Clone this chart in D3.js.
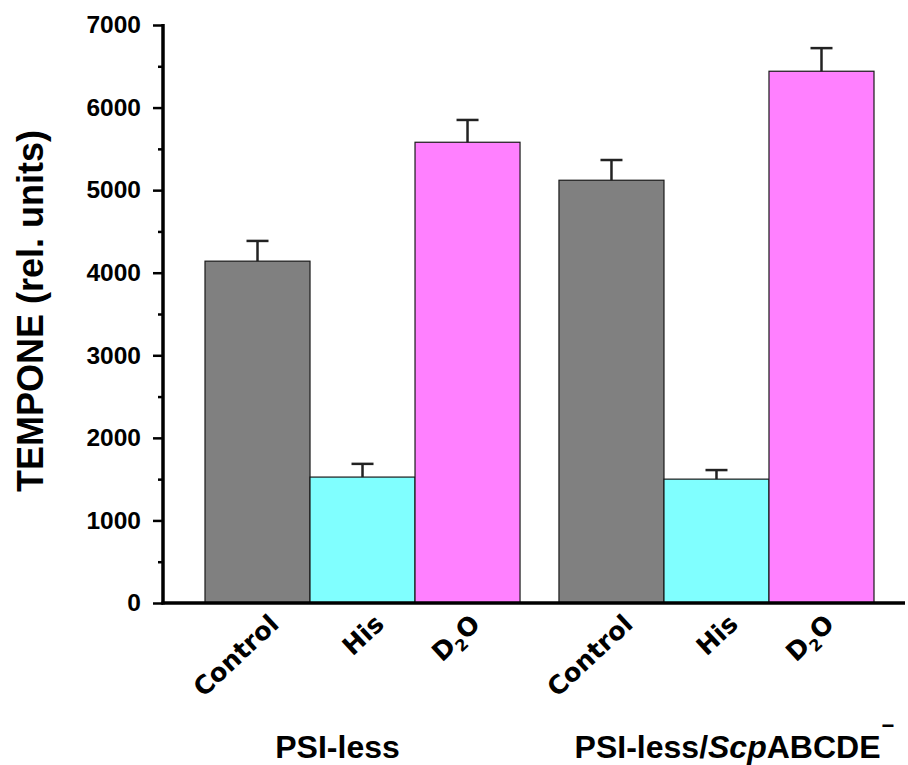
<!DOCTYPE html>
<html>
<head>
<meta charset="utf-8">
<script src="https://cdn.jsdelivr.net/npm/d3@7/dist/d3.min.js"></script>
<style>
  html, body { margin: 0; padding: 0; background: #fff; }
  svg { display: block; }
</style>
</head>
<body>
<svg id="chart" width="908" height="765"></svg>
<script>
// Strains (groups) and treatments
const groups = ["PSI-less", "PSI-less/ScpABCDE"];
const conditions = ["Control", "His", "D2O"];
// Mean TEMPONE signal per group, in condition order
const valuesPSIless = [4140, 1525, 5580];
const valuesScp = [5120, 1500, 6440];
// Upper error (SD) per group, in condition order
const errorsPSIless = [245, 160, 270];
const errorsScp = [245, 110, 280];
const yTicks = [0, 1000, 2000, 3000, 4000, 5000, 6000, 7000];
const yMinorTicks = [500, 1500, 2500, 3500, 4500, 5500, 6500];
const fills = { "Control": "#808080", "His": "#80FFFF", "D2O": "#FF80FF" };

const rows = [];
[valuesPSIless, valuesScp].forEach((vals, gi) => {
  const errs = gi === 0 ? errorsPSIless : errorsScp;
  conditions.forEach((c, ci) => rows.push({ group: groups[gi], cond: c, value: vals[ci], err: errs[ci] }));
});

const svg = d3.select("#chart");
const axisX = 163, baseY = 603;

const y = d3.scaleLinear().domain([0, 7000]).range([baseY, 25]);
const x0 = d3.scaleBand().domain(groups).range([205, 874]).paddingInner(0.11).paddingOuter(0);
const x1 = d3.scaleBand().domain(conditions).range([0, x0.bandwidth()]).padding(0);

// Bars
const g = svg.append("g");
g.selectAll("rect.bar").data(rows).join("rect")
  .attr("class", "bar")
  .attr("x", d => x0(d.group) + x1(d.cond))
  .attr("y", d => y(d.value))
  .attr("width", x1.bandwidth())
  .attr("height", d => y(0) - y(d.value))
  .attr("fill", d => fills[d.cond])
  .attr("stroke", "#1a1a1a")
  .attr("stroke-width", 1.2);

// Upper error bars
const cx = d => x0(d.group) + x1(d.cond) + x1.bandwidth() / 2;
g.selectAll("line.err").data(rows).join("line")
  .attr("class", "err")
  .attr("x1", cx).attr("x2", cx)
  .attr("y1", d => y(d.value)).attr("y2", d => y(d.value + d.err))
  .attr("stroke", "#222").attr("stroke-width", 2.5);
g.selectAll("line.cap").data(rows).join("line")
  .attr("class", "cap")
  .attr("x1", d => cx(d) - 11).attr("x2", d => cx(d) + 11)
  .attr("y1", d => y(d.value + d.err)).attr("y2", d => y(d.value + d.err))
  .attr("stroke", "#222").attr("stroke-width", 2.5);

// Y axis with major and minor ticks
const yAxis = d3.axisLeft(y).tickValues(yTicks).tickSize(10).tickPadding(12).tickFormat(d3.format("d"));
const ya = svg.append("g").attr("transform", `translate(${axisX},0)`).call(yAxis);
ya.select(".domain").remove();
ya.selectAll(".tick line").attr("stroke", "#000").attr("stroke-width", 2.5);
ya.selectAll(".tick text")
  .attr("font-family", "'Liberation Sans', Arial, sans-serif")
  .attr("font-weight", "bold").attr("font-size", 24.5).attr("fill", "#000");
const yMinor = d3.axisLeft(y).tickValues(yMinorTicks).tickSize(5).tickFormat("");
const ym = svg.append("g").attr("transform", `translate(${axisX},0)`).call(yMinor);
ym.select(".domain").remove();
ym.selectAll(".tick line").attr("stroke", "#000").attr("stroke-width", 2.5);

// Axis lines
svg.append("line").attr("x1", axisX).attr("x2", axisX).attr("y1", y(7000) - 1).attr("y2", baseY + 1.5)
  .attr("stroke", "#000").attr("stroke-width", 3.5);
svg.append("line").attr("x1", axisX - 1.5).attr("x2", 905).attr("y1", baseY).attr("y2", baseY)
  .attr("stroke", "#000").attr("stroke-width", 3.5);

// Y axis title
svg.append("text")
  .attr("transform", `translate(43,${y(3500) - 3}) rotate(-90)`)
  .attr("text-anchor", "middle")
  .attr("font-family", "'Liberation Sans', Arial, sans-serif")
  .attr("font-weight", "bold").attr("font-size", 36)
  .text("TEMPONE (rel. units)");

// Rotated condition labels
const lab = svg.append("g")
  .attr("font-family", "'DejaVu Sans', Verdana, sans-serif")
  .attr("font-weight", "bold").attr("font-size", 25.5).attr("fill", "#000");
rows.forEach(d => {
  const t = lab.append("text")
    .attr("text-anchor", "end")
    .attr("transform", `translate(${cx(d) + (d.cond === "D2O" ? 14 : 23)},${baseY + 23}) rotate(-43)`);
  if (d.cond === "D2O") {
    t.append("tspan").text("D");
    t.append("tspan").attr("font-size", 16).attr("dy", 6).text("2");
    t.append("tspan").attr("dy", -6).text("O");
  } else {
    t.text(d.cond);
  }
});

// Group labels
const gl = svg.append("g")
  .attr("font-family", "'Liberation Sans', Arial, sans-serif")
  .attr("font-weight", "bold").attr("font-size", 32).attr("fill", "#000")
  .attr("text-anchor", "middle");
gl.append("text").attr("x", x0(groups[0]) + x0.bandwidth() / 2 - 25).attr("y", 758).text("PSI-less");
const g2 = gl.append("text").attr("x", x0(groups[1]) + x0.bandwidth() / 2 + 18).attr("y", 758);
g2.append("tspan").text("PSI-less/");
g2.append("tspan").attr("font-style", "italic").text("Scp");
g2.append("tspan").text("ABCDE");
g2.append("tspan").attr("font-size", 22).attr("dy", -25).attr("dx", 1).text("\u2212");
</script>
</body>
</html>
